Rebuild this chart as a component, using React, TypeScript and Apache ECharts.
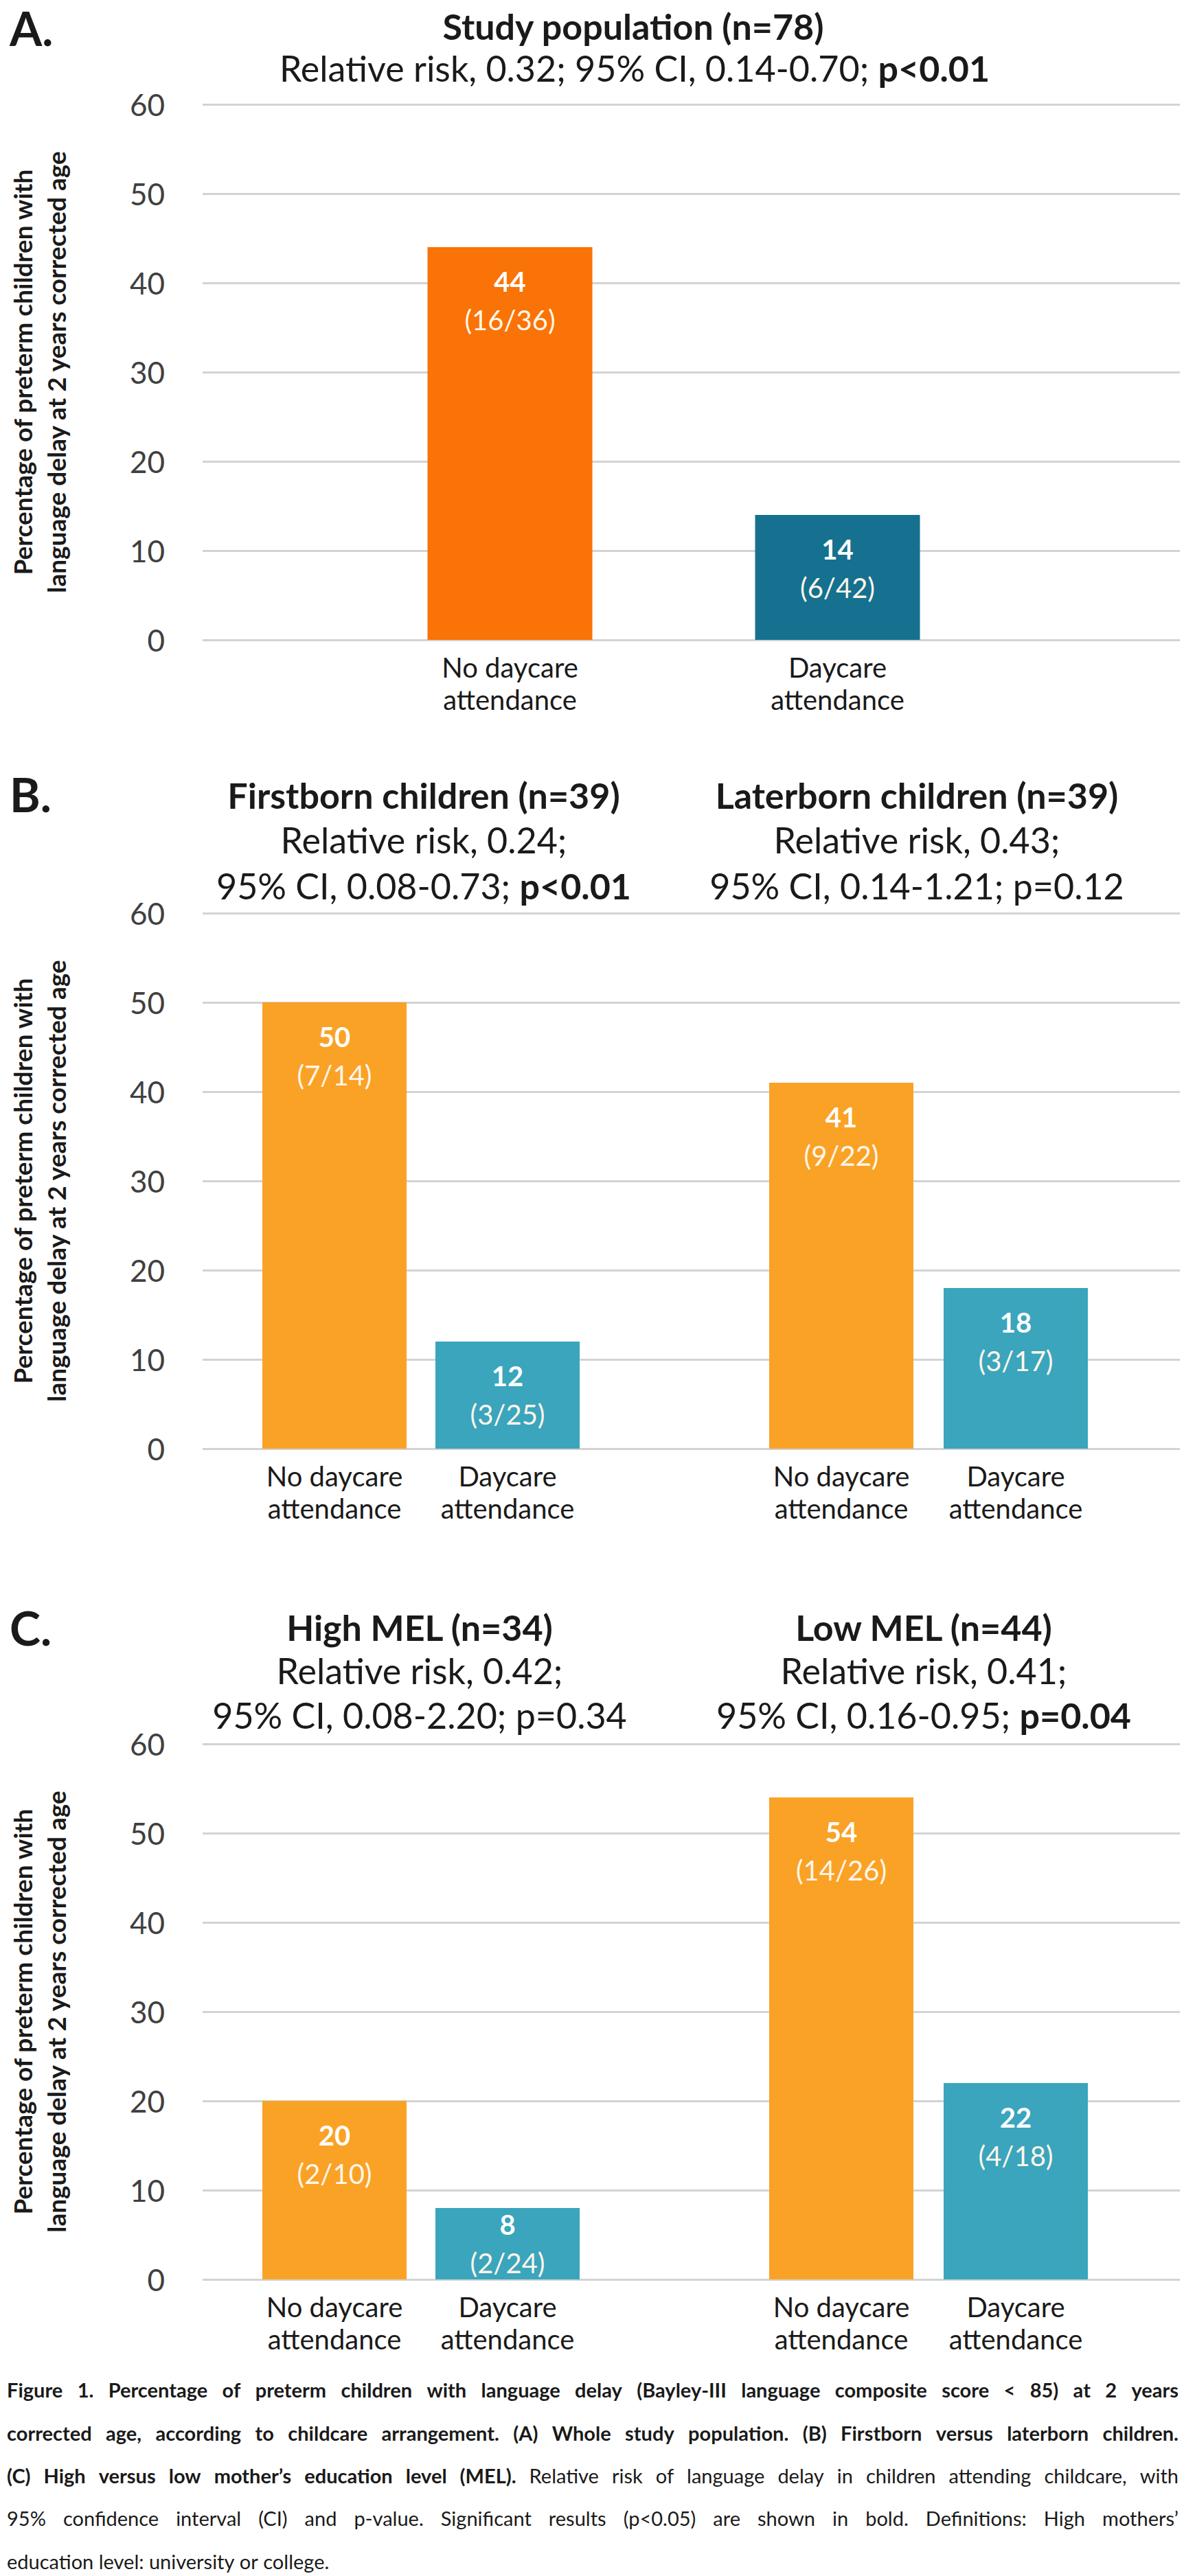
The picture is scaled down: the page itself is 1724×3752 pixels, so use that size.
import React, { useEffect, useRef } from 'react';
import * as echarts from 'echarts';

// ---------- data ----------
const categories = ['No daycare\nattendance', 'Daycare\nattendance'];
const yMin = 0;
const yMax = 60;
const yInterval = 10;

const studyValues = [44, 14];
const studyCounts = ['16/36', '6/42'];

const firstbornValues = [50, 12];
const firstbornCounts = ['7/14', '3/25'];
const laterbornValues = [41, 18];
const laterbornCounts = ['9/22', '3/17'];

const highMelValues = [20, 8];
const highMelCounts = ['2/10', '2/24'];
const lowMelValues = [54, 22];
const lowMelCounts = ['14/26', '4/18'];

const yAxisTitle = 'Percentage of preterm children with\nlanguage delay at 2 years corrected age';

// caption: each line is a list of [text, bold]
const captionLines: [string, boolean][][] = [
  [['Figure 1. Percentage of preterm children with language delay (Bayley-III language composite score < 85) at 2 years', true]],
  [['corrected age, according to childcare arrangement. (A) Whole study population. (B) Firstborn versus laterborn children.', true]],
  [
    ['(C) High versus low mother\u2019s education level (MEL).', true],
    ['Relative risk of language delay in children attending childcare, with', false],
  ],
  [['95% confidence interval (CI) and p-value. Significant results (p<0.05) are shown in bold. Definitions: High mothers\u2019', false]],
  [['education level: university or college.', false]],
];

// ---------- styles ----------
const FONT = 'Lato, "Open Sans", sans-serif';
const colorsA = ['#F97306', '#15718F'];
const colorsBC = ['#FAA226', '#3AA5BD'];
const GRID_COLOR = '#D3D3D3';
const TEXT = '#1a1a1a';

const PLOT_LEFT = 244;
const PLOT_WIDTH = 1474;
const PLOT_H = 780;

const CAP_SIZE = 29;
const CAP_LEFT = 10;
const CAP_RIGHT = 1716;
const CAP_Y = [3480, 3543, 3605, 3667, 3730];

export default function App() {
  const ref = useRef<HTMLDivElement>(null);

  useEffect(() => {
    document.body.style.margin = '0';
    const chart = echarts.init(ref.current!, null, { renderer: 'svg' });

    const grid: any[] = [];
    const xAxis: any[] = [];
    const yAxis: any[] = [];
    const series: any[] = [];

    const addBackground = (top: number) => {
      const idx = grid.length;
      grid.push({ left: PLOT_LEFT, width: PLOT_WIDTH, top, height: PLOT_H });
      xAxis.push({ gridIndex: idx, type: 'category', data: [''], show: false });
      yAxis.push({
        gridIndex: idx,
        type: 'value',
        min: yMin,
        max: yMax,
        interval: yInterval,
        axisLine: { show: false },
        axisTick: { show: false },
        axisLabel: { fontSize: 44, color: '#404040', margin: 55, fontFamily: FONT },
        splitLine: { lineStyle: { color: GRID_COLOR, width: 3 } },
        name: yAxisTitle,
        nameLocation: 'middle',
        nameGap: 189,
        nameTextStyle: { fontSize: 37, fontWeight: 'bold', lineHeight: 49, color: TEXT, fontFamily: FONT },
      });
    };

    const addGroup = (
      top: number,
      left: number,
      width: number,
      values: number[],
      counts: string[],
      colors: string[],
      barWidth: number
    ) => {
      const idx = grid.length;
      grid.push({ left, width, top, height: PLOT_H });
      xAxis.push({
        gridIndex: idx,
        type: 'category',
        data: categories,
        axisLine: { show: false },
        axisTick: { show: false },
        axisLabel: { interval: 0, fontSize: 40, lineHeight: 47, color: TEXT, margin: 16, fontFamily: FONT },
      });
      yAxis.push({ gridIndex: idx, type: 'value', min: yMin, max: yMax, show: false, splitLine: { show: false } });
      series.push({
        type: 'bar',
        xAxisIndex: idx,
        yAxisIndex: idx,
        barWidth,
        data: values.map((v, i) => ({
          value: v,
          itemStyle: { color: colors[i] },
          label: v < 10 ? { position: 'inside' } : undefined,
        })),
        label: {
          show: true,
          position: 'insideTop',
          distance: 22,
          formatter: (p: any) => `{v|${p.value}}\n{f|(${counts[p.dataIndex]})}`,
          rich: {
            v: { fontSize: 40, fontWeight: 'bold', color: '#FFFFFF', lineHeight: 56, fontFamily: FONT },
            f: { fontSize: 40, color: '#FFF6EA', lineHeight: 56, fontFamily: FONT },
          },
        },
      });
    };

    // Panel A
    const topA = 152;
    addBackground(topA);
    addGroup(topA, 504, 954, studyValues, studyCounts, colorsA, 240);
    // Panel B
    const topB = 1330;
    addBackground(topB);
    addGroup(topB, 361, 504, firstbornValues, firstbornCounts, colorsBC, 210);
    addGroup(topB, 1098, 508, laterbornValues, laterbornCounts, colorsBC, 210);
    // Panel C
    const topC = 2540;
    addBackground(topC);
    addGroup(topC, 361, 504, highMelValues, highMelCounts, colorsBC, 210);
    addGroup(topC, 1098, 508, lowMelValues, lowMelCounts, colorsBC, 210);

    const TS = 52; // title/subtitle font size
    const boldRich = { b: { fontWeight: 'bold', fontFamily: FONT, fontSize: TS, fill: TEXT } };
    const txt = (
      x: number,
      y: number,
      text: string,
      size: number,
      bold = false,
      align = 'center',
      rich: any = boldRich
    ) => ({
      type: 'text',
      x,
      y,
      style: {
        text,
        fontSize: size,
        fontWeight: bold ? 'bold' : 'normal',
        fontFamily: FONT,
        fill: TEXT,
        align,
        verticalAlign: 'middle',
        rich,
      },
    });

    // justified caption, word by word
    const canvas = document.createElement('canvas');
    const ctx = canvas.getContext('2d')!;
    const measure = (w: string, bold: boolean) => {
      ctx.font = `${bold ? 'bold ' : ''}${CAP_SIZE}px Lato`;
      return ctx.measureText(w).width;
    };
    const captionEls: any[] = [];
    captionLines.forEach((segs, li) => {
      const words: { w: string; b: boolean; width: number }[] = [];
      segs.forEach(([t, b]) => {
        t.split(' ').forEach((w) => {
          if (w) words.push({ w, b, width: measure(w, b) });
        });
      });
      const total = words.reduce((s, w) => s + w.width, 0);
      const last = li === captionLines.length - 1;
      const gap = last ? measure(' ', false) : (CAP_RIGHT - CAP_LEFT - total) / (words.length - 1);
      let x = CAP_LEFT;
      words.forEach((w) => {
        captionEls.push(txt(x, CAP_Y[li], w.w, CAP_SIZE, w.b, 'left'));
        x += w.width + gap;
      });
    });

    const graphic: any[] = [
      txt(14, 40, 'A.', 68, true, 'left'),
      txt(922, 38, 'Study population (n=78)', TS, true),
      txt(924, 99, 'Relative risk, 0.32; 95% CI, 0.14-0.70; {b|p<0.01}', TS),

      txt(14, 1156, 'B.', 68, true, 'left'),
      txt(617, 1158, 'Firstborn children (n=39)', TS, true),
      txt(617, 1223, 'Relative risk, 0.24;', TS),
      txt(617, 1290, '95% CI, 0.08-0.73; {b|p<0.01}', TS),
      txt(1335, 1158, 'Laterborn children (n=39)', TS, true),
      txt(1335, 1223, 'Relative risk, 0.43;', TS),
      txt(1335, 1290, '95% CI, 0.14-1.21; p=0.12', TS),

      txt(14, 2370, 'C.', 68, true, 'left'),
      txt(611, 2370, 'High MEL (n=34)', TS, true),
      txt(611, 2433, 'Relative risk, 0.42;', TS),
      txt(611, 2498, '95% CI, 0.08-2.20; p=0.34', TS),
      txt(1345, 2370, 'Low MEL (n=44)', TS, true),
      txt(1345, 2433, 'Relative risk, 0.41;', TS),
      txt(1345, 2498, '95% CI, 0.16-0.95; {b|p=0.04}', TS),

      ...captionEls,
    ];

    chart.setOption({
      animation: false,
      backgroundColor: '#FFFFFF',
      grid,
      xAxis,
      yAxis,
      series,
      graphic,
    });

    return () => chart.dispose();
  }, []);

  return <div ref={ref} style={{ width: 1724, height: 3752 }} />;
}
